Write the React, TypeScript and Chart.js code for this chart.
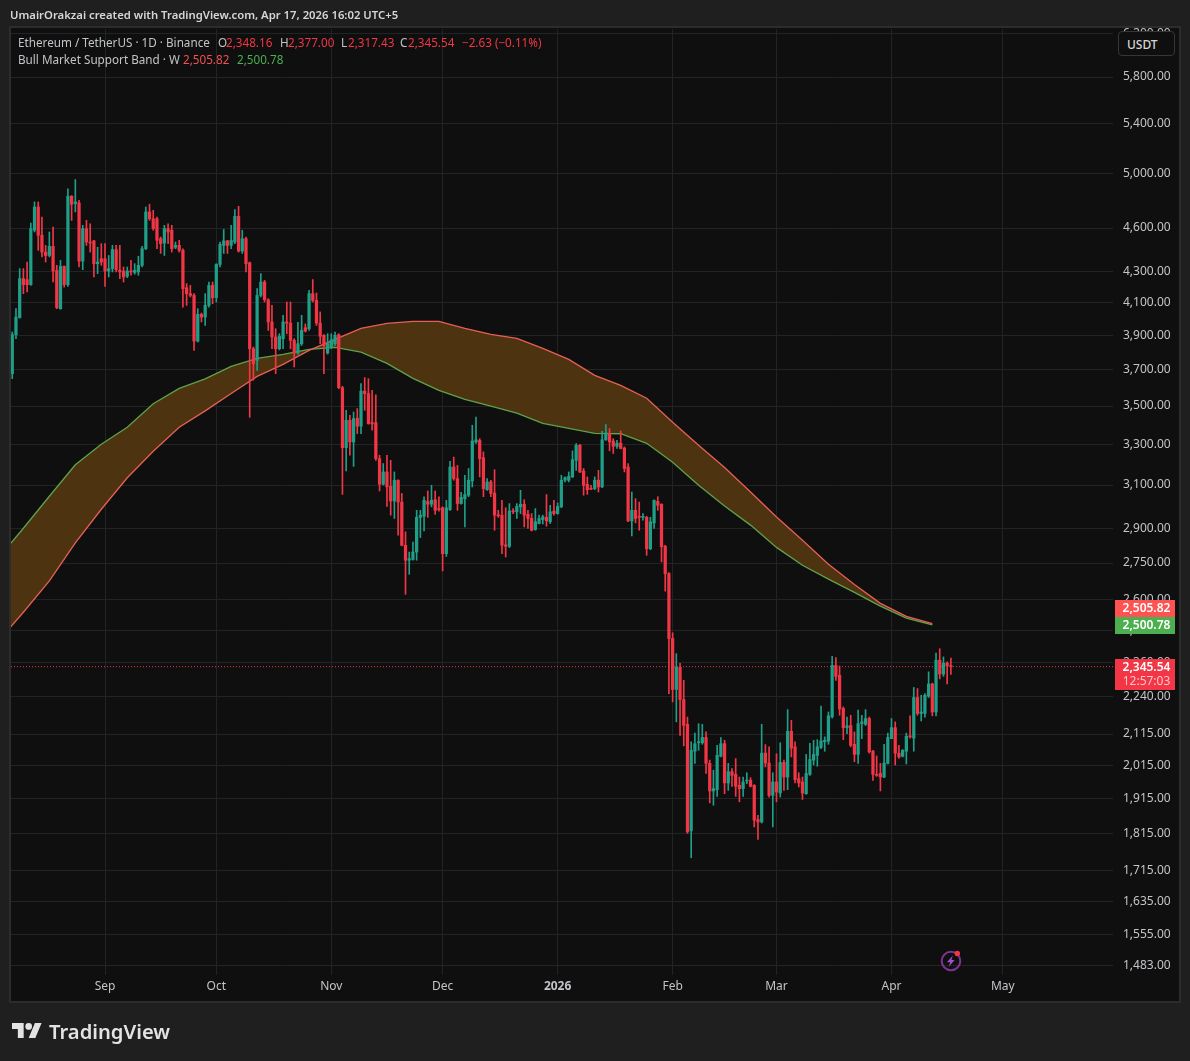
import { useEffect, useRef } from "react";
import { Chart, registerables } from "chart.js";

Chart.register(...registerables);

// days counted from Sep 1 2025, first candle is Aug 7
const FIRST_DAY = -25;

const opens = [
  3678, 3905, 4009, 4256, 4250, 4217, 4584, 4751, 4549, 4433,
  4410, 4472, 4310, 4064, 4337, 4217, 4830, 4776, 4781, 4372,
  4596, 4502, 4510, 4355, 4388, 4388, 4306, 4322, 4450, 4311,
  4306, 4272, 4306, 4297, 4300, 4344, 4456, 4715, 4666, 4666,
  4525, 4495, 4596, 4584, 4466, 4479, 4445, 4197, 4159, 4148,
  3867, 4029, 4012, 4085, 4212, 4133, 4350, 4479, 4510, 4479,
  4502, 4683, 4440, 4525, 4361, 3822, 3754, 4148, 4234, 4120,
  3982, 3891, 3822, 3881, 3982, 3975, 3871, 3797, 3851, 3947,
  3941, 4159, 4116, 3975, 3901, 3797, 3832, 3851, 3905, 3600,
  3283, 3424, 3312, 3435, 3393, 3581, 3567, 3412, 3412, 3228,
  3104, 3163, 3094, 3025, 3123, 3020, 2826, 2762, 2765, 2797,
  2950, 2955, 3023, 3010, 3031, 2990, 2994, 2790, 2985, 3187,
  3131, 3013, 3035, 3052, 3120, 3312, 3320, 3233, 3078, 3115,
  3062, 2960, 2960, 2828, 2822, 2979, 2975, 2998, 3010, 2964,
  2945, 2895, 2922, 2940, 2950, 2930, 2979, 2967, 2998, 3123,
  3123, 3139, 3220, 3295, 3168, 3104, 3085, 3083, 3123, 3091,
  3323, 3355, 3317, 3290, 3306, 3281, 3187, 2934, 2982, 2955,
  2950, 2950, 2811, 2925, 3023, 3010, 2822, 2706, 2449, 2265,
  2343, 2230, 2147, 1823, 2060, 2087, 2087, 2104, 2022, 1938,
  1942, 2044, 2084, 1962, 1996, 1988, 1955, 1945, 1968, 1970,
  1955, 1855, 1848, 2054, 2023, 1925, 1965, 1932, 2025, 1980,
  2124, 2074, 1975, 1965, 1930, 1988, 2032, 2047, 2072, 2090,
  2092, 2172, 2350, 2315, 2200, 2136, 2143, 2082, 2050, 2149,
  2147, 2166, 2060, 1988, 1991, 1980, 2022, 2100, 2136, 2054,
  2044, 2060, 2108, 2102, 2237, 2183, 2183, 2242, 2284, 2188,
  2369, 2319, 2358, 2348.16,
];

const highs = [
  3921, 4064, 4322, 4322, 4366, 4635, 4788, 4788, 4678, 4479,
  4572, 4607, 4344, 4377, 4340, 4886, 4835, 4955, 4800, 4619,
  4654, 4630, 4514, 4466, 4491, 4491, 4410, 4479, 4479, 4479,
  4333, 4333, 4377, 4355, 4405, 4472, 4751, 4771, 4727, 4678,
  4537, 4619, 4630, 4619, 4502, 4514, 4456, 4223, 4212, 4159,
  4064, 4037, 4159, 4234, 4234, 4355, 4502, 4590, 4514, 4619,
  4732, 4756, 4584, 4537, 4366, 3832, 4191, 4289, 4245, 4127,
  4085, 3941, 3911, 4023, 4106, 4106, 3881, 3980, 4023, 3970,
  4180, 4250, 4163, 4044, 3905, 3911, 3911, 3921, 3911, 3608,
  3477, 3450, 3468, 3486, 3623, 3656, 3650, 3585, 3561, 3245,
  3204, 3245, 3220, 3163, 3125, 3060, 2885, 2797, 2840, 2982,
  2982, 3045, 3072, 3099, 3072, 3045, 2998, 3028, 3215, 3236,
  3195, 3065, 3147, 3180, 3398, 3441, 3329, 3262, 3131, 3123,
  3174, 2982, 3028, 2994, 3013, 2990, 3013, 3075, 3031, 2982,
  2967, 2990, 2960, 2960, 3055, 3005, 3028, 3016, 3147, 3139,
  3163, 3267, 3304, 3300, 3180, 3139, 3099, 3139, 3171, 3367,
  3402, 3381, 3329, 3320, 3368, 3287, 3204, 3067, 3036, 3020,
  2967, 2955, 2950, 3031, 3045, 3012, 2826, 2710, 2471, 2393,
  2358, 2297, 2171, 2090, 2118, 2149, 2147, 2122, 2032, 2001,
  2079, 2104, 2095, 2022, 2006, 2037, 1980, 1980, 1993, 1978,
  1957, 1867, 2147, 2081, 2074, 1993, 2052, 2087, 2032, 2196,
  2160, 2090, 1993, 1980, 2050, 2085, 2095, 2097, 2208, 2106,
  2188, 2383, 2379, 2348, 2205, 2171, 2177, 2122, 2194, 2177,
  2196, 2171, 2063, 2045, 2022, 2082, 2118, 2166, 2155, 2079,
  2065, 2118, 2175, 2272, 2268, 2245, 2251, 2327, 2287, 2395,
  2411, 2381, 2363, 2377,
];

const lows = [
  3650, 3881, 4005, 4159, 4170, 4212, 4572, 4445, 4400, 4366,
  4400, 4234, 4064, 4060, 4201, 4205, 4654, 4715, 4333, 4315,
  4479, 4433, 4267, 4289, 4344, 4205, 4267, 4300, 4300, 4256,
  4234, 4262, 4278, 4285, 4278, 4333, 4450, 4654, 4584, 4456,
  4424, 4410, 4491, 4433, 4456, 4433, 4074, 4085, 4138, 3812,
  3861, 3982, 3961, 4074, 4095, 4106, 4333, 4424, 4424, 4456,
  4491, 4433, 4424, 4300, 3440, 3641, 3697, 4138, 4106, 3931,
  3822, 3678, 3815, 3822, 3911, 3822, 3716, 3790, 3841, 3921,
  3931, 4106, 3961, 3851, 3678, 3790, 3822, 3841, 3594, 3056,
  3168, 3245, 3190, 3355, 3355, 3477, 3403, 3372, 3220, 3072,
  3100, 3000, 2960, 2945, 2870, 2824, 2621, 2703, 2762, 2762,
  2860, 2889, 2950, 2998, 2964, 2978, 2717, 2778, 2982, 3123,
  2982, 3010, 2907, 3045, 3091, 3304, 3139, 3045, 3075, 3045,
  2892, 2950, 2790, 2776, 2816, 2967, 2945, 2967, 2907, 2900,
  2889, 2892, 2920, 2920, 2910, 2922, 2960, 2964, 2994, 3115,
  3115, 3136, 3171, 3160, 3052, 3056, 3078, 3078, 3067, 3088,
  3320, 3267, 3254, 3279, 3277, 3163, 2930, 2867, 2925, 2892,
  2937, 2783, 2807, 2900, 2982, 2755, 2634, 2250, 2222, 2155,
  2111, 2077, 1816, 1749, 2022, 2063, 2082, 1991, 1903, 1896,
  1922, 2042, 1930, 1940, 1952, 1922, 1906, 1922, 1960, 1950,
  1834, 1799, 1845, 2011, 1920, 1834, 1906, 1920, 1940, 1942,
  2042, 1962, 1950, 1913, 1928, 1985, 2017, 2013, 2068, 2060,
  2082, 2167, 2297, 2177, 2097, 2116, 2074, 2027, 2022, 2100,
  2143, 2054, 1970, 1982, 1938, 1978, 2020, 2100, 2017, 2037,
  2042, 2020, 2102, 2060, 2177, 2158, 2171, 2237, 2175, 2175,
  2302, 2311, 2284, 2317.43,
];

const closes = [
  3905, 4012, 4256, 4217, 4217, 4596, 4751, 4549, 4433, 4410,
  4472, 4306, 4070, 4337, 4217, 4830, 4771, 4788, 4372, 4596,
  4502, 4495, 4355, 4366, 4366, 4306, 4322, 4450, 4315, 4300,
  4267, 4306, 4300, 4311, 4344, 4456, 4715, 4666, 4596, 4514,
  4491, 4596, 4572, 4456, 4479, 4445, 4191, 4159, 4148, 3867,
  4029, 4012, 4085, 4212, 4133, 4350, 4486, 4510, 4479, 4514,
  4683, 4440, 4525, 4355, 3822, 3735, 4148, 4234, 4120, 3982,
  3891, 3822, 3895, 3982, 3975, 3871, 3797, 3851, 3931, 3927,
  4159, 4116, 3975, 3895, 3841, 3851, 3875, 3901, 3600, 3283,
  3424, 3312, 3433, 3393, 3581, 3567, 3407, 3405, 3228, 3104,
  3163, 3091, 3025, 3123, 3020, 2826, 2762, 2769, 2797, 2950,
  2960, 3028, 3010, 3028, 2982, 2985, 2790, 2994, 3187, 3131,
  3013, 3042, 3055, 3123, 3317, 3323, 3228, 3083, 3115, 3060,
  2960, 2957, 2826, 2822, 2979, 2975, 3000, 3010, 2960, 2945,
  2892, 2930, 2945, 2952, 2934, 2975, 2967, 3000, 3123, 3136,
  3142, 3223, 3295, 3163, 3099, 3078, 3080, 3123, 3091, 3323,
  3358, 3312, 3290, 3306, 3279, 3180, 2934, 2982, 2945, 2950,
  2950, 2811, 2930, 3028, 3005, 2820, 2706, 2449, 2265, 2343,
  2230, 2143, 1820, 2063, 2084, 2087, 2104, 2022, 1938, 1945,
  2047, 2084, 1962, 1996, 1985, 1952, 1945, 1965, 1968, 1952,
  1853, 1848, 2054, 2023, 1925, 1965, 1935, 2025, 1980, 2124,
  2070, 1972, 1962, 1932, 1991, 2034, 2050, 2074, 2093, 2095,
  2175, 2350, 2311, 2198, 2136, 2142, 2079, 2050, 2149, 2155,
  2166, 2058, 1988, 1985, 1980, 2023, 2104, 2136, 2054, 2042,
  2063, 2108, 2106, 2237, 2183, 2188, 2245, 2284, 2188, 2369,
  2319, 2358, 2348, 2345.54,
];

// weekly band, one value every 7 days
const bandDays = [
  -29, -22, -15, -8, -1, 6, 13, 20, 27, 34, 41, 48, 55, 62, 69, 76, 83, 90, 97,
  104, 111, 118, 125, 132, 139, 146, 153, 160, 167, 174, 181, 188, 195, 202, 209, 216, 223,
];
const bandRed = [
  2435, 2550, 2676, 2837, 2987, 3135, 3265, 3388, 3474, 3568, 3663, 3731, 3812, 3877, 3943, 3973, 3986, 3986, 3943,
  3907, 3883, 3824, 3760, 3669, 3613, 3542, 3414, 3295, 3185, 3067, 2952, 2848, 2745, 2661, 2585, 2534, 2505.82,
];
const bandGreen = [
  2766, 2901, 3047, 3198, 3300, 3388, 3512, 3596, 3649, 3720, 3766, 3789, 3818, 3830, 3802, 3737, 3652, 3585, 3536,
  3499, 3462, 3408, 3382, 3356, 3354, 3305, 3210, 3099, 3002, 2915, 2817, 2741, 2683, 2629, 2574, 2527, 2500.78,
];

const LAST_PRICE = 2345.54;
const X_MIN = -25.34;
const X_MAX = 271.7;

const yTicks = [
  6200, 5800, 5400, 5000, 4600, 4300, 4100, 3900, 3700, 3500, 3300, 3100, 2900, 2750, 2600, 2480, 2360, 2240, 2115,
  2015, 1915, 1815, 1715, 1635, 1555, 1483,
];
const monthDays = [0, 30, 61, 91, 122, 153, 181, 212, 242];
const monthLabels = ["Sep", "Oct", "Nov", "Dec", "2026", "Feb", "Mar", "Apr", "May"];

const UP = "#1f9e88";
const DOWN = "#f23645";
const FONT = '"Noto Sans", sans-serif';
const GRID = "#222324";
const TEXT = "#c2c4c8";

function fmt(v: number) {
  return v.toLocaleString("en-US", { minimumFractionDigits: 2, maximumFractionDigits: 2 });
}

function Txt({ x, y, color = TEXT, weight = 400, size = 11.7, children }: any) {
  return (
    <span
      style={{
        position: "absolute",
        left: x,
        top: y,
        color,
        fontWeight: weight,
        fontSize: size,
        lineHeight: "16px",
        whiteSpace: "pre",
        zIndex: 3,
      }}
    >
      {children}
    </span>
  );
}

function Tag({ y, h, bg, children }: any) {
  return (
    <div
      style={{
        position: "absolute",
        left: 1115,
        top: y,
        width: 60,
        height: h,
        paddingLeft: 3,
        boxSizing: "border-box",
        background: bg,
        color: "#fff",
        fontSize: 12,
        fontWeight: 600,
        lineHeight: "15px",
        textAlign: "center",
        zIndex: 3,
      }}
    >
      {children}
    </div>
  );
}

export default function App() {
  const canvasRef = useRef<HTMLCanvasElement>(null);

  useEffect(() => {
    document.body.style.margin = "0";
    if (!canvasRef.current) return;
    const days = opens.map((_, i) => FIRST_DAY + i);
    const colors = opens.map((o, i) => (closes[i] >= o ? UP : DOWN));

    const chart = new Chart(canvasRef.current, {
      type: "bar",
      data: {
        datasets: [
          {
            type: "bar",
            data: days.map((d, i) => ({ x: d, y: [opens[i], closes[i]] })),
            backgroundColor: colors,
            barThickness: 2.6,
            grouped: false,
            minBarLength: 1,
            order: 0,
          },
          {
            type: "bar",
            data: days.map((d, i) => ({ x: d, y: [lows[i], highs[i]] })),
            backgroundColor: colors,
            barThickness: 1,
            grouped: false,
            order: 1,
          },
          {
            type: "line",
            data: [
              { x: X_MIN, y: LAST_PRICE },
              { x: X_MAX, y: LAST_PRICE },
            ],
            borderColor: DOWN,
            borderWidth: 1,
            borderDash: [1, 2],
            pointRadius: 0,
            order: 2,
          },
          {
            type: "line",
            data: bandDays.map((d, i) => ({ x: d, y: bandRed[i] })),
            borderColor: "#e85f58",
            borderWidth: 1.3,
            pointRadius: 0,
            tension: 0,
            fill: "+1",
            backgroundColor: "#4d3310",
            order: 3,
          },
          {
            type: "line",
            data: bandDays.map((d, i) => ({ x: d, y: bandGreen[i] })),
            borderColor: "#5ea34a",
            borderWidth: 1.3,
            pointRadius: 0,
            tension: 0,
            order: 4,
          },
        ] as any,
      },
      options: {
        responsive: false,
        animation: false,
        events: [],
        layout: { padding: { left: 11, right: 12, top: 29, bottom: 61 } },
        plugins: {
          legend: { display: false },
          tooltip: { enabled: false },
          // fill under both band lines, otherwise it paints over the green one
          filler: { drawTime: "beforeDatasetsDraw" },
        },
        scales: {
          x: {
            type: "linear",
            min: X_MIN,
            max: X_MAX,
            offset: false,
            afterBuildTicks: (scale: any) => {
              scale.ticks = monthDays.map((value) => ({ value }));
            },
            afterFit: (scale: any) => {
              scale.height = 25;
            },
            grid: { color: GRID, drawTicks: false, offset: false },
            border: { display: false },
            ticks: {
              autoSkip: false,
              maxRotation: 0,
              padding: 4,
              color: TEXT,
              font: (ctx: any) => ({
                family: FONT,
                size: 12,
                weight: ctx.tick && ctx.tick.value === 122 ? "bold" : "normal",
              }),
              callback: (_v: any, i: number) => monthLabels[i],
            },
          },
          y: {
            type: "logarithmic",
            position: "right",
            min: 1461,
            max: 6244,
            afterBuildTicks: (scale: any) => {
              scale.ticks = yTicks.map((value) => ({ value }));
            },
            afterFit: (scale: any) => {
              scale.width = 65;
            },
            grid: { color: GRID, drawTicks: false },
            border: { display: false },
            ticks: {
              autoSkip: false,
              padding: 10,
              color: TEXT,
              font: { family: FONT, size: 12 },
              callback: (v: any) => fmt(Number(v)),
            },
          },
        },
      },
    } as any);

    return () => chart.destroy();
  }, []);

  return (
    <div
      style={{
        position: "relative",
        width: 1190,
        height: 1061,
        background: "#1f1f1f",
        overflow: "hidden",
        fontFamily: FONT,
      }}
    >
      <div
        style={{
          position: "absolute",
          left: 9,
          top: 26,
          width: 1168,
          height: 973,
          background: "#0f0f0f",
          border: "2px solid #2c2c2c",
        }}
      />
      <canvas ref={canvasRef} width={1190} height={1061} style={{ position: "absolute", left: 0, top: 0 }} />

      <Txt x={10} y={7} color="#d6d6d6" weight={600} size={11.3}>
        UmairOrakzai created with TradingView.com, Apr 17, 2026 16:02 UTC+5
      </Txt>

      <Txt x={18} y={34}>Ethereum / TetherUS · 1D · Binance</Txt>
      <Txt x={218} y={34}>O</Txt>
      <Txt x={226} y={34} color={DOWN}>2,348.16</Txt>
      <Txt x={280} y={34}>H</Txt>
      <Txt x={288} y={34} color={DOWN}>2,377.00</Txt>
      <Txt x={341} y={34}>L</Txt>
      <Txt x={348} y={34} color={DOWN}>2,317.43</Txt>
      <Txt x={400} y={34}>C</Txt>
      <Txt x={408} y={34} color={DOWN}>2,345.54</Txt>
      <Txt x={462} y={34} color={DOWN}>−2.63 (−0.11%)</Txt>
      <Txt x={18} y={51}>Bull Market Support Band · W</Txt>
      <Txt x={183} y={51} color="#f0524f">2,505.82</Txt>
      <Txt x={237} y={51} color="#4caf50">2,500.78</Txt>

      <div
        style={{
          position: "absolute",
          left: 1118,
          top: 31,
          width: 57,
          height: 25,
          background: "#0f0f0f",
          border: "1px solid #363636",
          borderRadius: 4,
          zIndex: 3,
          color: "#d6d6d6",
          fontSize: 12,
          fontWeight: 500,
          lineHeight: "25px",
          paddingLeft: 8,
          boxSizing: "border-box",
        }}
      >
        USDT
      </div>

      <Tag y={600} h={17} bg="#ff5252">2,505.82</Tag>
      <Tag y={617} h={17} bg="#4caf50">2,500.78</Tag>
      <Tag y={659} h={31} bg={DOWN}>
        <div>2,345.54</div>
        <div style={{ fontWeight: 400, color: "#ffc4cb", lineHeight: "14px" }}>12:57:03</div>
      </Tag>

      <svg width="24" height="24" viewBox="0 0 24 24" style={{ position: "absolute", left: 939, top: 949, zIndex: 3 }}>
        <circle cx="12" cy="12" r="9.3" fill="none" stroke="#7d3391" strokeWidth="2" />
        <path d="M13.8 6.5 8 13.2h3.2l-1.4 4.6 5.8-6.8h-3.2z" fill="#a64fd0" />
        <circle cx="18.3" cy="4.5" r="2.7" fill="#f23645" />
      </svg>

      <svg width="30" height="16" viewBox="0 0 36 19" style={{ position: "absolute", left: 12, top: 1023 }}>
        <path d="M14 18H7V7H0V0h14zM28 18h-8L27.5 0h8z" fill="#e3e3e3" />
        <circle cx="20" cy="4" r="4" fill="#e3e3e3" />
      </svg>
      <Txt x={49} y={1023} color="#e3e3e3" weight={600} size={20.2}>TradingView</Txt>
    </div>
  );
}
